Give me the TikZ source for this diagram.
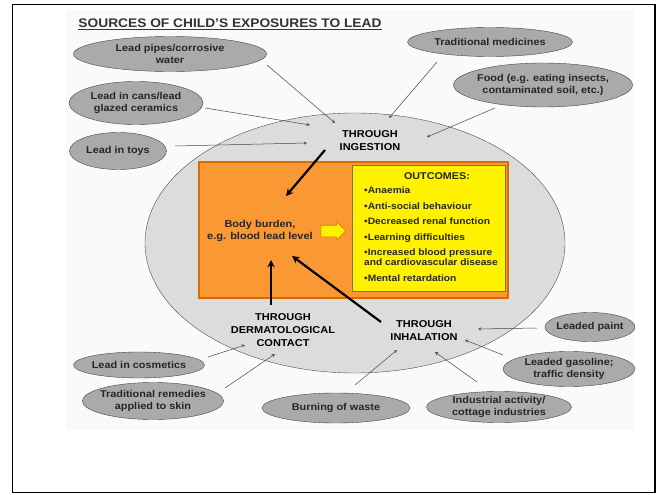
\documentclass[tikz,border=0pt]{standalone}
\usepackage{fontspec}
\setmainfont{Liberation Sans}[FakeStretch=1.1]
\usetikzlibrary{shapes,arrows,positioning}

\definecolor{burdenorange}{RGB}{250,152,52}
\definecolor{srcgrey}{RGB}{170,170,170}
\definecolor{ovalgrey}{RGB}{220,220,220}

\begin{document}
\begin{tikzpicture}[
    x=1pt, y=-1pt,
    source/.style={ellipse, draw=gray!55!black, fill=srcgrey, inner sep=-3pt, align=center, text=black!85, font=\fontsize{9.9}{12.5}\selectfont\bfseries},
    route/.style={inner sep=0pt, align=center, font=\fontsize{10}{13}\selectfont\bfseries},
    feed/.style={->, >=stealth, gray!55!black, line width=0.5pt},
    push/.style={->, >=stealth, line width=2.2pt}
]
\useasboundingbox (0,0) rectangle (657,495);

% frame and slide
\fill[black!2] (66,10) rectangle (634,430);
\draw[line width=1.5pt] (12.5,4.5) rectangle (655,492.5);
\node[font=\fontsize{12.5}{14}\selectfont\bfseries, text=black!80] (title) at (230,24) {\underline{SOURCES OF CHILD'S EXPOSURES TO LEAD}};

% exposure zone
\node[ellipse, draw=gray!60!black, fill=ovalgrey, minimum width=420pt, minimum height=260pt, inner sep=0pt] (oval) at (355,243) {};
\node[rectangle, draw=orange!85!black, fill=burdenorange, line width=1.2pt, minimum width=309pt, minimum height=136pt, inner sep=0pt] (burden) at (353.5,230) {};
\node[rectangle, draw=black!60!yellow, fill=yellow, line width=0.6pt, minimum width=153pt, minimum height=126pt, inner sep=0pt] (outbox) at (428.5,228) {};

% body burden and outcomes
\node[inner sep=0pt, align=center, text=black!85, font=\fontsize{10}{12}\selectfont\bfseries] (body) at (260,231) {Body burden,\\e.g. blood lead level};
\node[single arrow, draw=orange!90!black, fill=yellow, line width=0.6pt, minimum height=25pt, inner xsep=0pt, inner ysep=5.5pt, single arrow head extend=3.5pt] (toout) at (330.5,231) {};
\node[inner sep=0pt, text=black!85, font=\fontsize{9.8}{11}\selectfont\bfseries] (outhead) at (437,176) {OUTCOMES:};
\node[inner sep=0pt, anchor=north west, align=left, text=black!85, font=\fontsize{9.3}{10}\selectfont\bfseries] (outlist) at (364,187) {%
    •Anaemia\\[5.5pt]
    •Anti-social behaviour\\[5.5pt]
    •Decreased renal function\\[5.5pt]
    •Learning difficulties\\[5.5pt]
    •Increased blood pressure\\
    and cardiovascular disease\\[5.5pt]
    •Mental retardation};

% routes of exposure
\node[route] (ing) at (370,141) {THROUGH\\INGESTION};
\node[route] (derm) at (283,330) {THROUGH\\DERMATOLOGICAL\\CONTACT};
\node[route] (inh) at (424,331) {THROUGH\\INHALATION};

% sources
\node[source, minimum width=193pt, minimum height=35pt] (pipes) at (170,54) {Lead pipes/corrosive\\water};
\node[source, minimum width=134pt, minimum height=43pt] (cans) at (136,103) {Lead in cans/lead\\glazed ceramics};
\node[source, minimum width=97pt, minimum height=37pt] (toys) at (118,151) {Lead in toys};
\node[source, minimum width=165pt, minimum height=29pt] (meds) at (490,42) {Traditional medicines};
\node[source, minimum width=179pt, minimum height=44pt] (food) at (543,85) {Food (e.g. eating insects,\\contaminated soil, etc.)};
\node[source, minimum width=131pt, minimum height=26pt] (cosmetics) at (139,365) {Lead in cosmetics};
\node[source, minimum width=141pt, minimum height=37pt] (remedies) at (153,401) {Traditional remedies\\applied to skin};
\node[source, minimum width=148pt, minimum height=30pt] (burning) at (336,408) {Burning of waste};
\node[source, minimum width=145pt, minimum height=31pt] (industry) at (499,407) {Industrial activity/\\cottage industries};
\node[source, minimum width=132pt, minimum height=35pt] (gasoline) at (569,369) {Leaded gasoline;\\traffic density};
\node[source, minimum width=90pt, minimum height=29pt] (paint) at (590,327) {Leaded paint};

% ingestion
\draw[feed] ([shift={(97,11)}]pipes.center) -- ([shift={(-35,-18)}]ing.center);
\draw[feed] ([shift={(69,5)}]cans.center) -- ([shift={(-60,-16)}]ing.center);
\draw[feed] ([shift={(57,-5)}]toys.center) -- ([shift={(-63,2)}]ing.center);
\draw[feed] ([shift={(-53,20)}]meds.center) -- ([shift={(19,-23)}]ing.center);
\draw[feed] ([shift={(-48,23)}]food.center) -- ([shift={(57,-4)}]ing.center);

% dermatological contact
\draw[feed] ([shift={(69,-8)}]cosmetics.center) -- ([shift={(-38,15)}]derm.center);
\draw[feed] ([shift={(72,-13)}]remedies.center) -- ([shift={(-8,24)}]derm.center);

% inhalation
\draw[feed] ([shift={(-53,1)}]paint.center) -- ([shift={(54,-2)}]inh.center);
\draw[feed] ([shift={(-66,-14)}]gasoline.center) -- ([shift={(41,9)}]inh.center);
\draw[feed] ([shift={(19,-23)}]burning.center) -- ([shift={(-27,19)}]inh.center);
\draw[feed] ([shift={(-22,-25)}]industry.center) -- ([shift={(11,21)}]inh.center);

% into the body
\draw[push] ([shift={(-45,9)}]ing.center) -- ([shift={(26,-35)}]body.center);
\draw[push] ([shift={(-12,-25)}]derm.center) -- ([shift={(11,29)}]body.center);
\draw[push] ([shift={(-43,-9)}]inh.center) -- ([shift={(32,25)}]body.center);

\end{tikzpicture}
\end{document}
